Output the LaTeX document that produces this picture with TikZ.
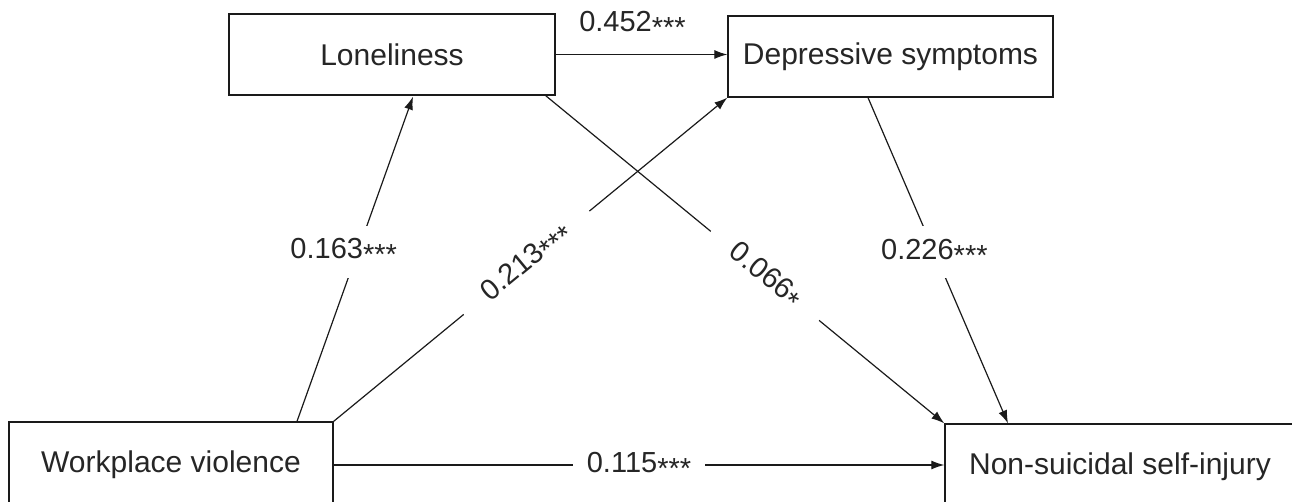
\documentclass[tikz,border=0pt]{standalone}
\usepackage{fontspec}
\setmainfont{Liberation Sans}
\usetikzlibrary{arrows.meta,calc}
\newcommand{\sg}[1]{\raisebox{-0.2em}{#1}}
\definecolor{ink}{HTML}{1A1A1A}
\definecolor{txt}{HTML}{262626}
\begin{document}
\begin{tikzpicture}[x=1pt,y=-1pt,
  box/.style={draw=ink, line width=1.3pt, inner sep=0pt, text=txt,
    font=\fontsize{30}{36}\selectfont},
  conn/.style={draw=ink, line width=1.2pt, -{Latex[length=13pt,width=9pt]}},
  lab/.style={fill=white, text=txt, inner sep=0pt, font=\fontsize{29}{34}\selectfont}]
\useasboundingbox (0,0) rectangle (1292,502);
\clip (0,0) rectangle (1292,502);
\fill[white] (0,0) rectangle (1292,502);

\node[box, minimum width=326pt, minimum height=81pt] (lon) at (392,54.5) {Loneliness};
\node[box, minimum width=325pt, minimum height=81pt] (dep) at (890.5,56.5) {Depressive symptoms};
\node[box, minimum width=324pt, minimum height=86pt] (wv) at (171,465) {Workplace violence};
\node[box, minimum width=350pt, minimum height=86pt] (nssi) at (1120,467) {Non-suicidal self-injury};

\draw[conn] (lon.east) -- node[lab, pos=0.5, yshift=30pt, xshift=-9pt] {0.452\sg{***}} (lon.east -| dep.west);
\draw[conn] ([xshift=126pt]wv.north) -- node[lab, pos=0.523, xshift=-14pt, inner xsep=2pt, inner ysep=13pt] {0.163\sg{***}} ([xshift=21pt,yshift=-1pt]lon.south);
\draw[conn] (wv.north east) -- node[lab, pos=0.49, sloped, inner xsep=28pt, inner ysep=4pt] {0.213\sg{***}} (dep.south west);
\draw[conn] ([xshift=-10pt]lon.south east) -- node[lab, pos=0.55, sloped, inner xsep=28pt, inner ysep=4pt] {0.066\sg{*}} (nssi.north west);
\draw[conn] ([xshift=-22.5pt]dep.south) -- node[lab, pos=0.474, inner xsep=2pt, inner ysep=13pt] {0.226\sg{***}} ([xshift=-112pt]nssi.north);
\draw[conn] (wv.east) -- node[lab, pos=0.5, inner xsep=14pt, inner ysep=4pt] {0.115\sg{***}} (wv.east -| nssi.west);
\end{tikzpicture}
\end{document}
